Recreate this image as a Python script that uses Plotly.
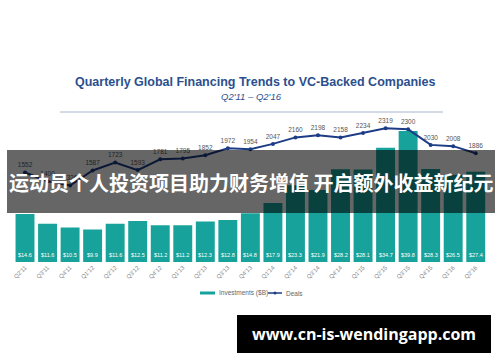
import plotly.graph_objects as go

quarters = ["Q2'11", "Q3'11", "Q4'11", "Q1'12", "Q2'12", "Q3'12", "Q4'12", "Q1'13",
            "Q2'13", "Q3'13", "Q4'13", "Q1'14", "Q2'14", "Q3'14", "Q4'14", "Q1'15",
            "Q2'15", "Q3'15", "Q4'15", "Q1'16", "Q2'16"]
investments = [14.6, 11.6, 10.5, 9.9, 11.6, 12.5, 11.2, 11.2, 12.3, 12.8, 14.8,
               17.9, 23.3, 21.9, 28.2, 28.1, 34.7, 39.8, 28.3, 26.5, 27.4]
deals = [1552, 1400, 1326, 1587, 1723, 1593, 1781, 1795, 1852, 1972, 1954,
         2047, 2160, 2198, 2158, 2234, 2319, 2300, 2030, 2008, 1886]
series_names = ["Investments ($B)", "Deals"]

W, H = 500, 362
TEAL = "#17a39b"
NAVY = "#1d3c86"

def px(x):
    return x / W

def py(y):
    return 1 - y / H

fig = go.Figure()
fig.add_trace(go.Bar(
    x=quarters, y=investments, name=series_names[0],
    marker=dict(color=TEAL, line=dict(width=0)), width=0.84,
    yaxis="y", hoverinfo="skip"))
fig.add_trace(go.Scatter(
    x=quarters, y=deals, name=series_names[1], yaxis="y2",
    mode="lines+markers+text", text=[str(d) for d in deals],
    textposition="top center", textfont=dict(size=6.5, color="#555", family="Liberation Sans"),
    line=dict(color=NAVY, width=2), marker=dict(size=4, color=NAVY)))

annotations = []
for q, v in zip(quarters, investments):
    annotations.append(dict(x=q, y=0, xref="x", yref="y", text=f"${v}",
                            showarrow=False, yanchor="bottom", yshift=2,
                            font=dict(size=5.5, color="white", family="Liberation Sans")))

def note(x, y, text, size, color, family="Liberation Sans", xanchor="center"):
    return dict(x=px(x), y=py(y), xref="paper", yref="paper", showarrow=False,
                xanchor=xanchor, yanchor="middle", text=text,
                font=dict(size=size, color=color, family=family))

annotations += [
    note(255, 82, "<b>Quarterly Global Financing Trends to VC-Backed Companies</b>", 12.5, "#2b4f8e"),
    note(251, 97, "<i>Q2'11 – Q2'16</i>", 9.5, "#2b4f8e"),
    note(217, 293, series_names[0], 6.5, "#666", xanchor="left"),
    note(284, 293, series_names[1], 6.5, "#666", xanchor="left"),
    note(251, 182, "<b>运动员个人投资项目助力财务增值 开启额外收益新纪元</b>", 20, "white",
         family="Noto Sans CJK SC"),
    note(364, 334, "<b>www.cn-is-wendingapp.com</b>", 16, "white", family="Open Sans"),
]

shapes = [
    dict(type="line", xref="paper", yref="paper", x0=px(60), x1=px(443),
         y0=py(112), y1=py(112), line=dict(color="#a8b6cc", width=1)),
    # legend swatches
    dict(type="rect", xref="paper", yref="paper", x0=px(200), x1=px(215),
         y0=py(294.5), y1=py(291.5), fillcolor=TEAL, line=dict(width=0)),
    dict(type="line", xref="paper", yref="paper", x0=px(268), x1=px(282),
         y0=py(293), y1=py(293), line=dict(color=NAVY, width=1.5)),
    dict(type="circle", xref="paper", yref="paper", x0=px(273.5), x1=px(276.5),
         y0=py(294.5), y1=py(291.5), fillcolor=NAVY, line=dict(width=0)),
    # overlays
    dict(type="rect", xref="paper", yref="paper", x0=px(7), x1=px(495),
         y0=py(150), y1=py(213), fillcolor="rgba(0,0,0,0.6)", line=dict(width=0),
         layer="above"),
    dict(type="rect", xref="paper", yref="paper", x0=px(237), x1=px(491),
         y0=py(315), y1=py(353), fillcolor="black", line=dict(width=0),
         layer="above"),
]

fig.update_layout(
    width=W, height=H, margin=dict(l=0, r=0, t=0, b=0),
    paper_bgcolor="white", plot_bgcolor="white",
    showlegend=False,
    xaxis=dict(domain=[px(13.75), px(487)], range=[-0.5, 20.5], type="category",
               tickangle=-45, tickfont=dict(size=6, color="#888", family="Liberation Sans"),
               showgrid=False, showline=False, ticks=""),
    yaxis=dict(domain=[py(262), py(112)], range=[0, 45.6], visible=False, showgrid=False),
    yaxis2=dict(domain=[py(262), py(112)], range=[0, 2600], overlaying="y",
                visible=False, showgrid=False),
    annotations=annotations, shapes=shapes,
)

fig.write_html("out.html")
